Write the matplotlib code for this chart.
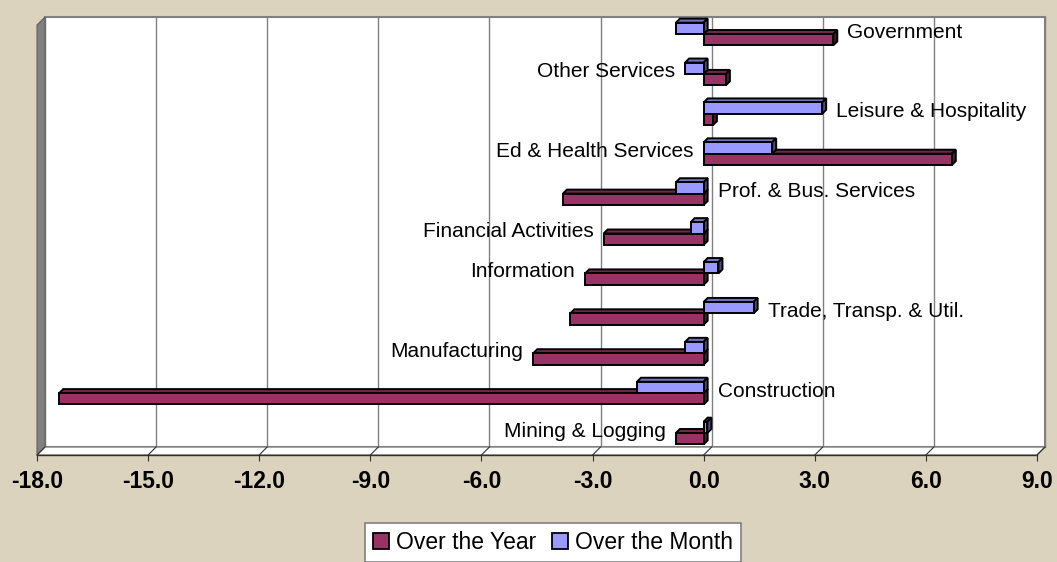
import matplotlib
matplotlib.use("Agg")
import matplotlib.pyplot as plt
from matplotlib.patches import Polygon, Rectangle, Patch

plt.rcParams['font.family'] = ['Liberation Sans', 'DejaVu Sans']

# data (bottom to top)
categories = ["Mining & Logging", "Construction", "Manufacturing",
              "Trade, Transp. & Util.", "Information", "Financial Activities",
              "Prof. & Bus. Services", "Ed & Health Services",
              "Leisure & Hospitality", "Other Services", "Government"]
over_year = [-0.75, -17.4, -4.6, -3.6, -3.2, -2.7, -3.8, 6.7, 0.25, 0.6, 3.5]
over_month = [0.1, -1.8, -0.5, 1.35, 0.4, -0.35, -0.75, 1.85, 3.2, -0.5, -0.75]
label_side = ["left", "right", "left", "right", "left", "left",
              "right", "left", "right", "left", "right"]
xticks = [-18.0, -15.0, -12.0, -9.0, -6.0, -3.0, 0.0, 3.0, 6.0, 9.0]

year_col = "#993366"
month_col = "#9999FF"

W, H = 1057, 562
fig = plt.figure(figsize=(W / 100, H / 100), dpi=100)
fig.patch.set_facecolor("#DCD3BF")

# front plane of the 3d box (pixels)
left, right, top, bottom = 37, 1037, 25, 455
ax = fig.add_axes([left / W, 1 - bottom / H, (right - left) / W, (bottom - top) / H])
ax.set_xlim(-18, 9)
pitch = 39.9
ax.set_ylim(-(bottom - 433) / pitch, (433 - top) / pitch)
ax.set_facecolor("none")
for s in ax.spines.values():
    s.set_visible(False)

# 3d depth offsets
depth = 8
dxa = depth / (right - left)
dya = depth / (bottom - top)

# back wall, side wall, floor
ax.add_patch(Rectangle((dxa, dya), 1, 1, transform=ax.transAxes, fc="white",
                       ec="#808080", lw=1.5, clip_on=False, zorder=0))
ax.add_patch(Polygon([(0, 0), (0, 1), (dxa, 1 + dya), (dxa, dya)], closed=True,
                     transform=ax.transAxes, fc="#808080", ec="#606060", lw=0.8,
                     clip_on=False, zorder=0.5))
ax.add_patch(Polygon([(0, 0), (1, 0), (1 + dxa, dya), (dxa, dya)], closed=True,
                     transform=ax.transAxes, fc="white", ec="#808080", lw=1,
                     clip_on=False, zorder=0.5))
ax.plot([0, 1], [0, 0], transform=ax.transAxes, color="#303030", lw=1,
        clip_on=False, zorder=0.6)
for t in xticks:
    xa = (t + 18) / 27
    ax.plot([xa + dxa, xa + dxa], [dya, 1 + dya], transform=ax.transAxes,
            color="#808080", lw=1, clip_on=False, zorder=0.4)
    ax.plot([xa, xa + dxa], [0, dya], transform=ax.transAxes,
            color="#303030", lw=0.8, clip_on=False, zorder=0.7)

ax.set_xticks(xticks)
ax.set_xticklabels(["%.1f" % t for t in xticks], fontsize=16.5, fontweight="bold")
ax.tick_params(axis="x", length=4, width=0.8, pad=7, color="#303030")
ax.set_yticks([])

# bars with pseudo 3d faces
h = 0.285
bdx = 4 * 27 / (right - left)
bdy = 4 / pitch


def shade(c, f):
    c = matplotlib.colors.to_rgb(c)
    return tuple(v * f for v in c)


def bar3d(y0, v, col, z):
    ax.barh(y0, v, height=h, align="edge", color=col, edgecolor="black",
            lw=1.4, zorder=z + 0.2, clip_on=False)
    lo, hi = min(0, v), max(0, v)
    ax.add_patch(Polygon([(lo, y0 + h), (hi, y0 + h), (hi + bdx, y0 + h + bdy),
                          (lo + bdx, y0 + h + bdy)], closed=True,
                         fc=shade(col, 0.75), ec="black", lw=1.4, zorder=z,
                         clip_on=False))
    ax.add_patch(Polygon([(hi, y0), (hi, y0 + h), (hi + bdx, y0 + h + bdy),
                          (hi + bdx, y0 + bdy)], closed=True,
                         fc=shade(col, 0.5), ec="black", lw=1.4, zorder=z + 0.1,
                         clip_on=False))


for i in range(len(categories)):
    bar3d(i - h, over_year[i], year_col, 2 + i * 0.01)
    bar3d(i, over_month[i], month_col, 3 + i * 0.01)

# category labels next to the bars
pad = 0.27
for i, name in enumerate(categories):
    if label_side[i] == "right":
        x = max(0, over_year[i], over_month[i]) + bdx + pad
        ax.text(x, i + 0.05, name, ha="left", va="center", fontsize=15, zorder=5)
    else:
        x = min(0, over_year[i], over_month[i]) - pad
        ax.text(x, i + 0.05, name, ha="right", va="center", fontsize=15, zorder=5)

handles = [Patch(fc=year_col, ec="black", lw=1.3, label="Over the Year"),
           Patch(fc=month_col, ec="black", lw=1.3, label="Over the Month")]
leg = fig.legend(handles=handles, loc="upper center", ncol=2,
                 bbox_to_anchor=(553 / W, 1 - 523 / H), fontsize=16.5,
                 frameon=True, fancybox=False, handlelength=0.7,
                 handleheight=0.7, handletextpad=0.3, columnspacing=0.7,
                 borderpad=0.35, borderaxespad=0, framealpha=1)
leg.get_frame().set_facecolor("white")
leg.get_frame().set_edgecolor("#808080")
leg.get_frame().set_linewidth(1.2)

fig.savefig("out.png", dpi=100, facecolor=fig.get_facecolor())
